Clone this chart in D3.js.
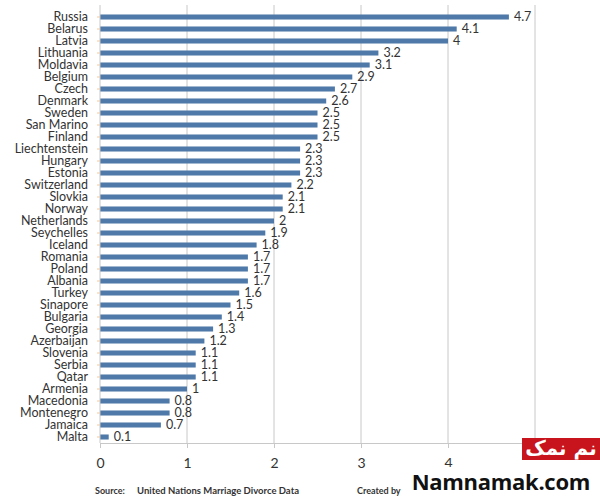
<!DOCTYPE html>
<html>
<head>
<meta charset="utf-8">
<script src="https://cdn.jsdelivr.net/npm/d3@7"></script>
<style>
  body { margin: 0; background: #fff; }
  svg { display: block; }
</style>
</head>
<body>
<div class="center"></div>
<script>
// divorce rate per 1000 people
const countries = ["Russia","Belarus","Latvia","Lithuania","Moldavia","Belgium","Czech","Denmark",
  "Sweden","San Marino","Finland","Liechtenstein","Hungary","Estonia","Switzerland","Slovkia",
  "Norway","Netherlands","Seychelles","Iceland","Romania","Poland","Albania","Turkey","Sinapore",
  "Bulgaria","Georgia","Azerbaijan","Slovenia","Serbia","Qatar","Armenia","Macedonia","Montenegro",
  "Jamaica","Malta"];
const rates = [4.7,4.1,4,3.2,3.1,2.9,2.7,2.6,2.5,2.5,2.5,2.3,2.3,2.3,2.2,2.1,2.1,2,1.9,1.8,
  1.7,1.7,1.7,1.6,1.5,1.4,1.3,1.2,1.1,1.1,1.1,1,0.8,0.8,0.7,0.1];
const gridTicks = [1,2,3,4,5];
const xTicks = [0,1,2,3,4];   // the "5" label sits under the watermark in the original

const data = countries.map((c, i) => ({country: c, rate: rates[i]}));

const W = 600, H = 499;
const plot = {left: 100, right: 535, top: 11, bottom: 443};
const font = "Lato, 'Open Sans', sans-serif";

const svg = d3.select(".center").append("svg")
    .attr("width", W)
    .attr("height", H);

const xScale = d3.scaleLinear().domain([0, 5]).range([plot.left, plot.right]);
const yScale = d3.scaleBand().domain(countries).range([plot.top, plot.bottom]).paddingInner(0.58).paddingOuter(0.29);

// vertical gridlines
svg.append("g")
    .selectAll("line")
    .data(gridTicks)
    .enter().append("line")
    .attr("x1", d => xScale(d)).attr("x2", d => xScale(d))
    .attr("y1", plot.top - 6).attr("y2", plot.bottom)
    .style("stroke", "#c8c8c8")
    .style("stroke-width", 1);

// bars
svg.append("g")
    .selectAll("rect")
    .data(data)
    .enter().append("rect")
    .attr("x", xScale(0))
    .attr("y", d => yScale(d.country))
    .attr("width", d => xScale(d.rate) - xScale(0))
    .attr("height", yScale.bandwidth())
    .style("fill", "#4e79a8");

// value labels
svg.append("g")
    .selectAll("text")
    .data(data)
    .enter().append("text")
    .attr("x", d => xScale(d.rate) + 5)
    .attr("y", d => yScale(d.country) + yScale.bandwidth() / 2 + 1)
    .attr("dominant-baseline", "middle")
    .style("font-family", font)
    .style("font-size", "12.5px")
    .style("fill", "#333")
    .text(d => d.rate);

// y axis (category names)
const yAxis = d3.axisLeft(yScale).tickSize(3).tickPadding(9);
const gy = svg.append("g")
    .attr("transform", `translate(${plot.left},0)`)
    .call(yAxis);
gy.select(".domain").style("stroke", "#c8c8c8").attr("d", `M0,${plot.top - 6}V${plot.bottom}`);
gy.selectAll(".tick line").style("stroke", "#f3c9a0");
gy.selectAll(".tick text")
    .style("font-family", font)
    .style("font-size", "12.5px")
    .style("fill", "#333");

// x axis
const xAxis = d3.axisBottom(xScale).tickValues(xTicks).tickSize(5).tickPadding(10)
    .tickFormat(d3.format("d")).tickSizeOuter(0);
const gx = svg.append("g")
    .attr("transform", `translate(0,${plot.bottom})`)
    .call(xAxis);
gx.select(".domain").style("stroke", "#c8c8c8");
gx.selectAll(".tick line").style("stroke", "#c8c8c8");
gx.selectAll(".tick text")
    .style("font-family", font)
    .style("font-size", "14px")
    .style("fill", "#333");

// footer
svg.append("text")
    .attr("x", 95).attr("y", 494)
    .style("font-family", font).style("font-size", "9px").style("font-weight", "700").style("fill", "#333")
    .text("Source:");
svg.append("text")
    .attr("x", 137).attr("y", 494)
    .style("font-family", font).style("font-size", "9.5px").style("font-weight", "700").style("fill", "#333")
    .text("United Nations Marriage Divorce Data");
svg.append("text")
    .attr("x", 357).attr("y", 494)
    .style("font-family", font).style("font-size", "9px").style("font-weight", "700").style("fill", "#333")
    .text("Created by");

// watermark
svg.append("rect")
    .attr("x", 403).attr("y", 467).attr("width", 197).attr("height", 32)
    .style("fill", "#fff");
svg.append("text")
    .attr("x", 590).attr("y", 490)
    .attr("text-anchor", "end")
    .style("font-family", "'Open Sans', sans-serif").style("font-size", "22px").style("font-weight", "700")
    .style("letter-spacing", "-0.3px")
    .style("fill", "#111")
    .text("Namnamak.com");
svg.append("rect")
    .attr("x", 522).attr("y", 438).attr("width", 78).attr("height", 22)
    .style("fill", "#c8141c");
svg.append("text")
    .attr("x", 561).attr("y", 449)
    .attr("text-anchor", "middle").attr("dominant-baseline", "middle")
    .style("font-family", "'DejaVu Sans', sans-serif").style("font-size", "20px").style("font-weight", "700")
    .style("fill", "#fff")
    .text("نم نمک");
</script>
</body>
</html>
